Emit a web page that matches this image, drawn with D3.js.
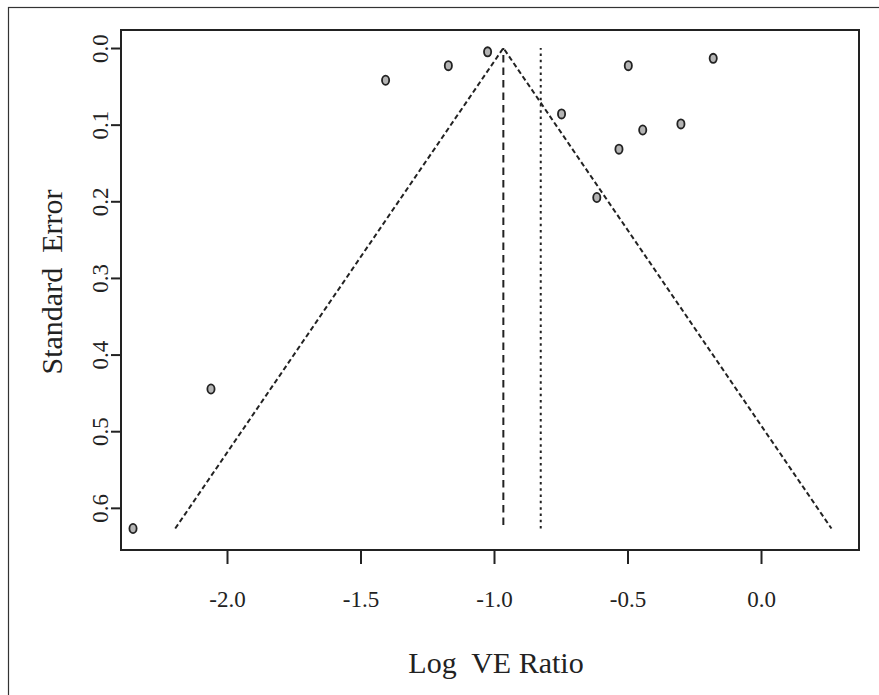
<!DOCTYPE html>
<html>
<head>
<meta charset="utf-8">
<script src="https://cdn.jsdelivr.net/npm/d3@7"></script>
<style>
  body { margin: 0; background: #fff; }
  svg { display: block; }
  .tick text { font-family: "Liberation Serif", "Times New Roman", serif; font-size: 23px; fill: #222; }
  .axis-title { font-family: "Liberation Serif", "Times New Roman", serif; font-size: 30px; fill: #222; white-space: pre; }
</style>
</head>
<body>
<div id="chart"></div>
<script>

// log VE ratio and its standard error for each study
var logRatio = [-2.352, -2.060, -1.406, -1.171, -1.024, -0.747, -0.497, -0.443, -0.532, -0.615, -0.179, -0.300]
var stdErr   = [ 0.627,  0.445,  0.042,  0.023,  0.005,  0.086,  0.023,  0.107,  0.132,  0.195,  0.0135, 0.099]

var pooledEst = -0.965   // funnel centre (dashed line)
var origEst = -0.825     // dotted line

var xTicks = [-2.0, -1.5, -1.0, -0.5, 0.0]
var yTicks = [0.0, 0.1, 0.2, 0.3, 0.4, 0.5, 0.6]

var width = 879, height = 695
var plot = {left: 121, right: 859, top: 30, bottom: 550}

var svg = d3.select("#chart").append("svg")
  .attr("width", width)
  .attr("height", height)

// outer frame of the figure
svg.append("rect")
  .attr("x", 8.5).attr("y", 7.5)
  .attr("width", 900).attr("height", 800)
  .style("fill", "none")
  .style("stroke", "#333")
  .style("stroke-width", 1.2)

var xScale = d3.scaleLinear()
  .domain([-2.397, 0.367])
  .range([plot.left, plot.right])

var yScale = d3.scaleLinear()
  .domain([-0.0235, 0.655])
  .range([plot.top, plot.bottom])

var seMax = d3.max(stdErr)

// funnel
var funnel = [
  [pooledEst - 1.96 * seMax, seMax],
  [pooledEst, 0],
  [pooledEst + 1.96 * seMax, seMax]
]
var line = d3.line()
  .x(function(d) { return xScale(d[0]); })
  .y(function(d) { return yScale(d[1]); })

svg.append("path")
  .datum(funnel)
  .attr("d", line)
  .style("fill", "none")
  .style("stroke", "#222")
  .style("stroke-width", 2)
  .style("stroke-dasharray", "5,3")

svg.append("line")
  .attr("x1", xScale(pooledEst)).attr("x2", xScale(pooledEst))
  .attr("y1", yScale(seMax)).attr("y2", yScale(0))
  .attr("stroke-dashoffset", 9)
  .style("stroke", "#222")
  .style("stroke-width", 2)
  .style("stroke-dasharray", "7.5,5")

svg.append("line")
  .attr("x1", xScale(origEst)).attr("x2", xScale(origEst))
  .attr("y1", yScale(seMax)).attr("y2", yScale(0))
  .style("stroke", "#222")
  .style("stroke-width", 2)
  .style("stroke-dasharray", "2.5,3.8")

// studies
svg.selectAll(".study")
  .data(d3.range(logRatio.length))
  .enter().append("ellipse")
    .attr("class", "study")
    .attr("cx", function(i) { return xScale(logRatio[i]); })
    .attr("cy", function(i) { return yScale(stdErr[i]); })
    .attr("rx", 3.6)
    .attr("ry", 4.6)
    .style("fill", "#b4b4b4")
    .style("stroke", "#222")
    .style("stroke-width", 1.8)

// axes
var xAxis = svg.append("g")
  .attr("class", "x axis")
  .attr("transform", "translate(0," + plot.bottom + ")")
  .call(d3.axisBottom(xScale).tickValues(xTicks).tickSize(14).tickFormat(d3.format(".1f")))
xAxis.select(".domain").remove()
xAxis.selectAll(".tick line").style("stroke", "#222").style("stroke-width", 2)
xAxis.selectAll(".tick text").attr("y", 57).attr("dy", null)
  .text(function(d) { return d3.format(".1f")(d).replace("−", "-"); })

var yAxis = svg.append("g")
  .attr("class", "y axis")
  .attr("transform", "translate(" + plot.left + ",0)")
  .call(d3.axisLeft(yScale).tickValues(yTicks).tickSize(10).tickFormat(d3.format(".1f")))
yAxis.select(".domain").remove()
yAxis.selectAll(".tick line").style("stroke", "#222").style("stroke-width", 2)
yAxis.selectAll(".tick text")
  .attr("x", null).attr("dy", null)
  .attr("text-anchor", "middle")
  .attr("transform", "translate(-13,0) rotate(-90)")

// plot box
svg.append("rect")
  .attr("x", plot.left).attr("y", plot.top)
  .attr("width", plot.right - plot.left)
  .attr("height", plot.bottom - plot.top)
  .style("fill", "none")
  .style("stroke", "#222")
  .style("stroke-width", 2)

svg.append("text")
  .attr("class", "axis-title")
  .attr("x", (plot.left + plot.right) / 2 + 6)
  .attr("y", 673)
  .style("text-anchor", "middle")
  .text("Log  VE Ratio")

svg.append("text")
  .attr("class", "axis-title")
  .attr("transform", "translate(62," + ((plot.top + plot.bottom) / 2 - 8) + ") rotate(-90)")
  .style("text-anchor", "middle")
  .text("Standard  Error")

</script>
</body>
</html>
